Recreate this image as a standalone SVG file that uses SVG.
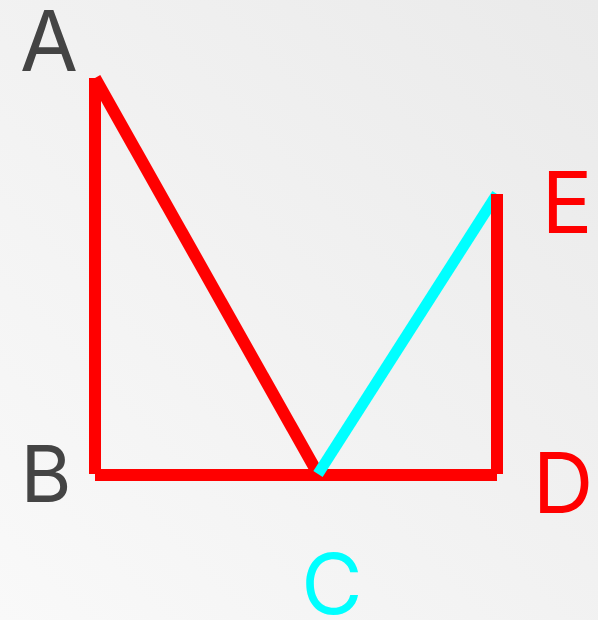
<svg xmlns="http://www.w3.org/2000/svg" width="598" height="620" viewBox="0 0 598 620">
  <defs>
    <linearGradient id="bg" x1="0" y1="1" x2="1" y2="0">
      <stop offset="0" stop-color="#f9f9f9"/>
      <stop offset="1" stop-color="#eaeaea"/>
    </linearGradient>
  </defs>
  <style>
    .red { stroke: #ff0000; stroke-width: 12; fill: none; stroke-linecap: butt; }
    .cyan { stroke: #00ffff; stroke-width: 11; fill: none; stroke-linecap: butt; }
    .lbl { font-family: Inter, Roboto, "Liberation Sans", sans-serif; font-size: 84px; text-anchor: middle; }
  </style>
  <rect width="598" height="620" fill="url(#bg)"/>
  <g id="connectors">
    <line class="red" x1="95" y1="78" x2="95" y2="474"/>
    <line class="red" x1="95" y1="78" x2="317" y2="472"/>
    <line class="red" x1="95" y1="475" x2="497" y2="475"/>
    <line class="cyan" x1="318" y1="474" x2="497" y2="194"/>
    <line class="red" x1="497" y1="194" x2="497" y2="474"/>
  </g>
  <g id="node-A"><text class="lbl" x="49" y="71" fill="#444444">A</text></g>
  <g id="node-B"><text class="lbl" x="46" y="502" fill="#444444" style="font-size:78px">B</text></g>
  <g id="node-C"><text class="lbl" x="332" y="614" fill="#00ffff">C</text></g>
  <g id="node-D"><text class="lbl" x="563" y="513" fill="#ff0000">D</text></g>
  <g id="node-E"><text class="lbl" x="567" y="233" fill="#ff0000" style="font-size:85px">E</text></g>
</svg>
